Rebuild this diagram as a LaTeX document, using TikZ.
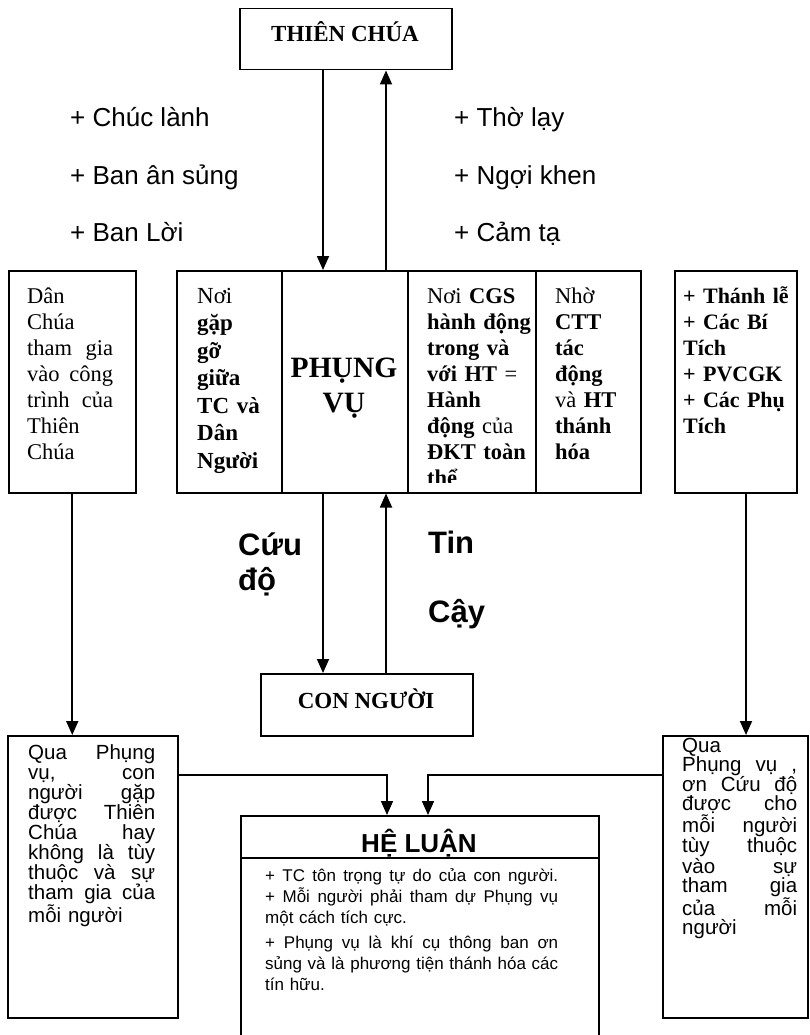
\documentclass[tikz,border=0pt]{standalone}
\usepackage{fontspec}
\setmainfont{Liberation Serif}
\newfontfamily\arialf{Liberation Sans}
\usetikzlibrary{arrows.meta}
\newcommand\jline[1]{\makebox[\hsize][s]{\spaceskip=\fontdimen2\font plus 1fil\relax\xspaceskip=\spaceskip #1}}
\lineskiplimit=-100pt
\lineskip=0pt
\tikzset{
  boxr/.style={draw, line width=1.5pt, anchor=north west, inner sep=0pt},
  arr/.style={line width=1.8pt, -{Triangle[width=12pt,length=14pt]}},
  conn/.style={line width=1.5pt, -{Triangle[width=12pt,length=14pt]}},
  txt/.style={inner sep=0pt, anchor=base west, align=left},
  sertxt/.style={txt, font=\fontsize{22.5}{26}\selectfont},
  sertxtb/.style={txt, font=\fontsize{23}{27.5}\selectfont},
  title/.style={inner sep=0pt, anchor=base, font=\fontsize{23}{26}\selectfont\bfseries},
  plus/.style={inner sep=0pt, anchor=base west, font=\arialf\fontsize{26}{30}\selectfont},
  big/.style={inner sep=0pt, anchor=base west, font=\arialf\fontsize{31}{35}\selectfont\bfseries},
  lowtxt/.style={txt, font=\arialf\fontsize{20.5}{20}\selectfont},
}
\begin{document}
\begin{tikzpicture}[x=1pt,y=-1pt]
\useasboundingbox (0,0) rectangle (809,1035);
% boxes
\node[boxr, minimum width=212pt, minimum height=61pt] (tc) at (239,8) {};
\node[boxr, minimum width=127pt, minimum height=222pt] (dc) at (8,270) {};
\node[boxr, minimum width=105pt, minimum height=222pt] (c1) at (176,270) {};
\node[boxr, minimum width=126pt, minimum height=222pt] (c2) at (281,270) {};
\node[boxr, minimum width=128pt, minimum height=222pt] (c3) at (407,270) {};
\node[boxr, minimum width=105pt, minimum height=222pt] (c4) at (535,270) {};
\node[boxr, minimum width=122pt, minimum height=222pt] (rt) at (674,270) {};
\node[boxr, minimum width=212pt, minimum height=62pt] (cn) at (260,673) {};
\node[boxr, minimum width=170pt, minimum height=282pt] (ll) at (7,735) {};
\node[boxr, minimum width=145pt, minimum height=282pt] (lr) at (662,735) {};
\node[boxr, minimum width=358pt, minimum height=42pt] (hl) at (240,815) {};
\node[boxr, minimum width=358pt, minimum height=200pt] (hb) at (240,857) {};
% texts
\node[title] (tct) at (345,42) {THIÊN CHÚA};
\node[title] (cnt) at (366,708) {CON NGƯỜI};
\node[plus] (p1) at (70,127) {+ Chúc lành};
\node[plus] (p2) at (70,184) {+ Ban ân sủng};
\node[plus] (p3) at (70,241) {+ Ban Lời};
\node[plus] (p4) at (454,127) {+ Thờ lạy};
\node[plus] (p5) at (454,184) {+ Ngợi khen};
\node[plus] (p6) at (454,241) {+ Cảm tạ};
\node[sertxt, text width=86pt] (dct) at (27,303) {Dân\\ Chúa\\ \jline{tham gia}\\ \jline{vào công}\\ \jline{trình của}\\ Thiên\\ Chúa};
\node[sertxtb, text width=80pt] (c1t) at (197,303) {Nơi\\ \textbf{gặp}\\ \textbf{gỡ}\\ \textbf{giữa}\\ \textbf{TC và}\\ \textbf{Dân}\\ \textbf{Người}};
\node[inner sep=0pt, anchor=base, text width=120pt, align=center, font=\fontsize{29.5}{35}\selectfont\bfseries] (c2t) at (344,377) {PHỤNG\\ VỤ};
\begin{scope}
\clip (407,270) rectangle (535,482);
\node[sertxt, text width=110pt] (c3t) at (427,303) {Nơi \textbf{CGS}\\ \textbf{hành động}\\ \textbf{trong và}\\ \textbf{với HT} =\\ \textbf{Hành}\\ \textbf{động} của\\ \textbf{ĐKT toàn}\\ \textbf{thể}};
\end{scope}
\node[sertxt, text width=80pt] (c4t) at (555,303) {Nhờ\\ \textbf{CTT}\\ \textbf{tác}\\ \textbf{động}\\ và \textbf{HT}\\ \textbf{thánh}\\ \textbf{hóa}};
\node[sertxt, text width=110pt, font=\fontsize{22}{26}\selectfont\bfseries] (rtt) at (683,303) {+ Thánh lễ\\ + Các Bí\\ Tích\\ + PVCGK\\ + Các Phụ\\ Tích};
\node[big] (cuu) at (238,555) {Cứu};
\node[big] (do) at (238,590) {độ};
\node[big] (tin) at (428,553) {Tin};
\node[big] (cay) at (428,622) {Cậy};
\node[lowtxt, text width=127pt] (llt) at (28,759) {\jline{Qua Phụng}\\ \jline{vụ, con}\\ \jline{người gặp}\\ \jline{được Thiên}\\ \jline{Chúa hay}\\ \jline{không là tùy}\\ \jline{thuộc và sự}\\ \jline{tham gia của}\\ mỗi người};
\node[txt, text width=115pt, font=\arialf\fontsize{20.5}{19.2}\selectfont] (lrt) at (682,752) {Qua\\ \jline{Phụng vụ ,}\\ \jline{ơn Cứu độ}\\ \jline{được cho}\\ \jline{mỗi người}\\ \jline{tùy thuộc}\\ \jline{vào sự}\\ \jline{tham gia}\\ \jline{của mỗi}\\ người};
\node[inner sep=0pt, anchor=base, font=\arialf\fontsize{26}{30}\selectfont\bfseries] (hlt) at (419,852) {HỆ LUẬN};
\node[txt, text width=293pt, font=\arialf\fontsize{17}{21}\selectfont] (hbt) at (265,881) {\jline{+ TC tôn trọng tự do của con người.}\\ \jline{+ Mỗi người phải tham dự Phụng vụ}\\ một cách tích cực.\\[4pt] \jline{+ Phụng vụ là khí cụ thông ban ơn}\\ \jline{sủng và là phương tiện thánh hóa các}\\ tín hữu.};
% connectors
\coordinate (xa) at (323,0);
\coordinate (xb) at (386,0);
\coordinate (xr) at (746,0);
\coordinate (yc) at (0,775);
\coordinate (xh1) at (387,0);
\coordinate (xh2) at (428,0);
\draw[arr] (tc.south -| xa) -- (c2.north -| xa);
\draw[arr] (c2.north -| xb) -- (tc.south -| xb);
\draw[arr] (c2.south -| xa) -- (cn.north -| xa);
\draw[arr] (cn.north -| xb) -- (c2.south -| xb);
\draw[arr] (dc.south) -- (ll.north -| dc.south);
\draw[arr] (rt.south -| xr) -- (lr.north -| xr);
\draw[conn] (ll.east |- yc) -| (hl.north -| xh1);
\draw[conn] (lr.west |- yc) -| (hl.north -| xh2);
\end{tikzpicture}
\end{document}
